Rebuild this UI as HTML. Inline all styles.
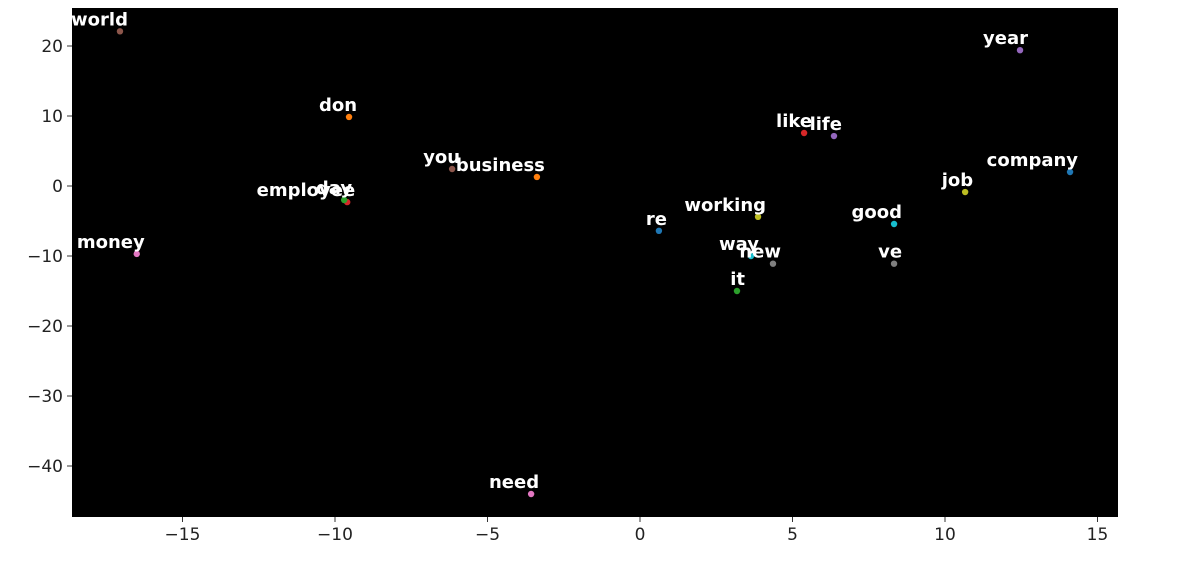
<!DOCTYPE html>
<html><head><meta charset="utf-8"><style>
html,body{margin:0;padding:0;background:#fff;}
svg{display:block;font-family:"DejaVu Sans","Liberation Sans",sans-serif;}
</style></head><body>
<svg id="chart" width="1203" height="564" viewBox="0 0 1203 564">
<rect x="72" y="8" width="1046" height="509" fill="#000"/>
<g id="xt"></g>
<g id="yt"></g>
<g id="pts"></g>
</svg>
<script>
const words=["world","don","you","business","employee","day","money","re","working","way","new","it","like","life","year","company","job","good","ve","need"];
const xs=[-17.05,-9.54,-6.16,-3.38,-9.6,-9.7,-16.5,0.62,3.87,3.64,4.36,3.18,5.38,6.36,12.46,14.1,10.66,8.33,8.33,-3.57];
const ys=[22.1,9.86,2.43,1.29,-2.3,-2.0,-9.7,-6.4,-4.4,-10,-11.1,-15,7.57,7.14,19.4,2.0,-0.86,-5.43,-11.1,-44];
const colors=["#8c564b","#ff7f0e","#8c564b","#ff7f0e","#d62728","#2ca02c","#e377c2","#1f77b4","#bcbd22","#17becf","#7f7f7f","#2ca02c","#d62728","#9467bd","#9467bd","#1f77b4","#bcbd22","#17becf","#7f7f7f","#e377c2"];
const xTicks=[-15,-10,-5,0,5,10,15];
const yTicks=[20,10,0,-10,-20,-30,-40];
const X=v=>640+v*30.5, Y=v=>186-v*7;
const NS="http://www.w3.org/2000/svg";
function mk(t,a,p){const e=document.createElementNS(NS,t);for(const k in a)e.setAttribute(k,a[k]);p.appendChild(e);return e;}
const xt=document.getElementById('xt'),yt=document.getElementById('yt'),pts=document.getElementById('pts');
xTicks.forEach(v=>{
 const l=mk('line',{x1:X(v),x2:X(v),y1:517,y2:522,stroke:'#333'},xt);
 
 
 const t=mk('text',{x:X(v),y:540,'text-anchor':'middle','font-size':17,fill:'#222'},xt);
 t.textContent=(v<0?'\u2212'+(-v):v);
 
 
});
yTicks.forEach(v=>{
 const l=mk('line',{x1:67,x2:72,y1:Y(v),y2:Y(v),stroke:'#333'},yt);
 
 
 const t=mk('text',{x:63,y:Y(v)+6,'text-anchor':'end','font-size':17,fill:'#222'},yt);
 t.textContent=(v<0?'\u2212'+(-v):v);
 
 
});
words.forEach((w,i)=>{
 const c=mk('circle',{cx:X(xs[i]),cy:Y(ys[i]),r:3.2,fill:colors[i]},pts);
 
 
 const t=mk('text',{x:X(xs[i])+8,y:Y(ys[i])-6,'text-anchor':'end','font-size':18,'font-weight':'bold',fill:'#fff'},pts);
 t.textContent=w;
 
 
});
</script>
</body></html>
